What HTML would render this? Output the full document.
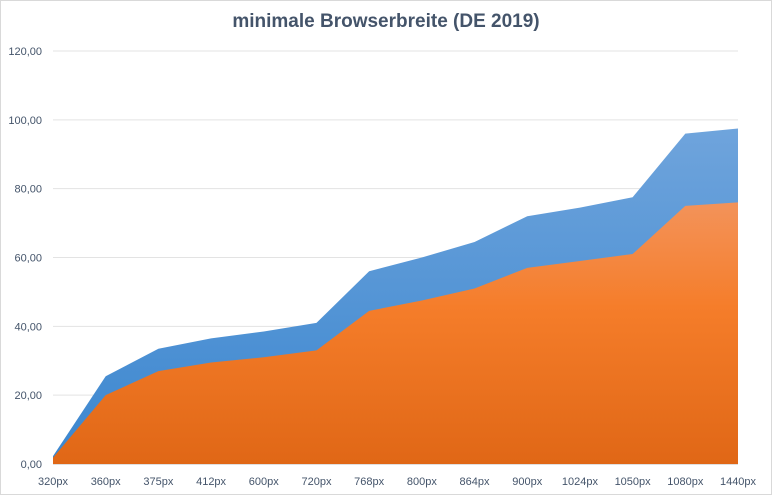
<!DOCTYPE html>
<html><head><meta charset="utf-8"><style>
body{margin:0;background:#fff;font-family:"Liberation Sans",sans-serif}
svg{display:block}
</style></head><body>
<svg id="c" width="772" height="499">
<defs>
<linearGradient id="gb" x1="0" y1="0" x2="0" y2="1"><stop offset="0" stop-color="#6fa4dc"/><stop offset="1" stop-color="#3a86cf"/></linearGradient>
<linearGradient id="go" x1="0" y1="0" x2="0" y2="1"><stop offset="0" stop-color="#f3935a"/><stop offset="0.4" stop-color="#f57d2a"/><stop offset="1" stop-color="#e06716"/></linearGradient>
</defs>
<rect x="0.5" y="0.5" width="771" height="494" fill="#fff" stroke="#d9d9d9"/>
<text x="386" y="27" text-anchor="middle" font-size="19" font-weight="bold" fill="#44546a">minimale Browserbreite (DE 2019)</text>
<g id="grid"></g><g id="areas"></g><g id="labels"></g>
</svg>
<script>
const categories=["320px","360px","375px","412px","600px","720px","768px","800px","864px","900px","1024px","1050px","1080px","1440px"];
const orangeValues=[1.8,20,27,29.5,31,33,44.5,47.5,51,57,59,61,75,76];
const blueTotals=[2.3,25.5,33.5,36.5,38.5,41,56,60,64.5,72,74.5,77.5,96,97.5];
const yTicks=[0,20,40,60,80,100,120];
const yTickLabels=["0,00","20,00","40,00","60,00","80,00","100,00","120,00"];
const NS="http://www.w3.org/2000/svg";
const X0=53,X1=738,Y0=464,Y1=51;
const x=i=>X0+i*(X1-X0)/(categories.length-1);
const y=v=>Y0-(v/120)*(Y0-Y1);
function mk(t,a,p){const e=document.createElementNS(NS,t);for(const k in a)e.setAttribute(k,a[k]);p.appendChild(e);return e;}
const grid=document.getElementById('grid'),areas=document.getElementById('areas'),labels=document.getElementById('labels');
yTicks.forEach((v,i)=>{
 const l=mk('line',{x1:X0,x2:X1,y1:y(v),y2:y(v),stroke:i==0?'#bfbfbf':'#e3e3e3','stroke-width':1},grid);
 
 
 const t=mk('text',{x:42,y:y(v)+4,'text-anchor':'end','font-size':11,fill:'#44546a'},labels);
 t.textContent=yTickLabels[i];
 
 
});
function areaPath(vals){let d='M'+x(0)+','+Y0;vals.forEach((v,i)=>d+=' L'+x(i)+','+y(v));return d+' L'+x(vals.length-1)+','+Y0+' Z';}
const pb=mk('path',{d:areaPath(blueTotals),fill:'url(#gb)'},areas);


const po=mk('path',{d:areaPath(orangeValues),fill:'url(#go)'},areas);


categories.forEach((c,i)=>{
 const t=mk('text',{x:x(i),y:485,'text-anchor':'middle','font-size':11,fill:'#44546a'},labels);
 t.textContent=c;
 
 
});
</script>
</body></html>
